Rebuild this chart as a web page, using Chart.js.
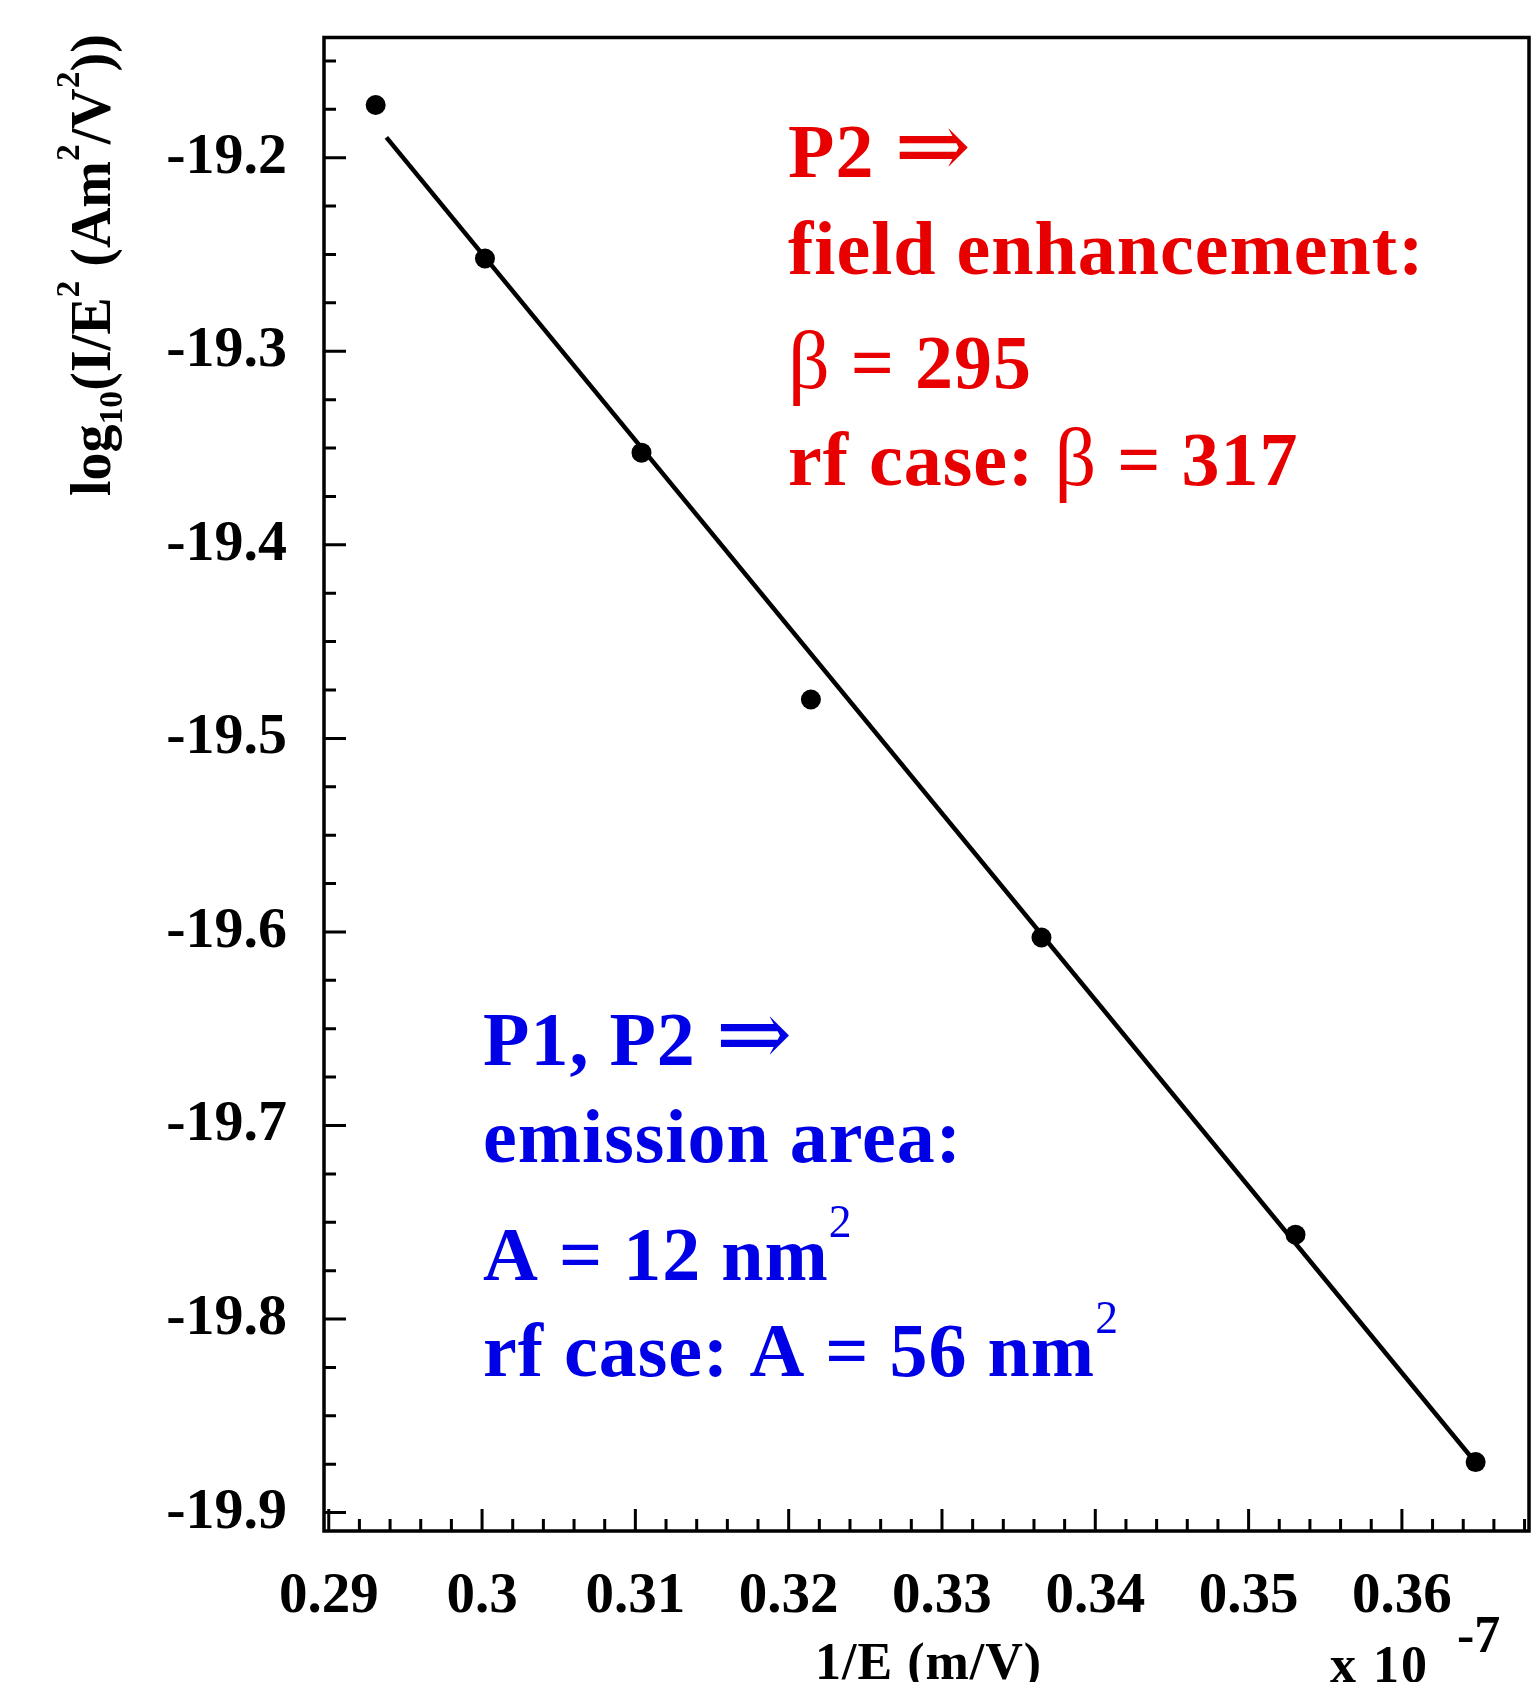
<!DOCTYPE html>
<html>
<head>
<meta charset="utf-8">
<script src="https://cdn.jsdelivr.net/npm/chart.js@4/dist/chart.umd.min.js"></script>
<style>
  html, body { margin: 0; padding: 0; background: #fff; overflow: hidden; }
  canvas { display: block; }
</style>
</head>
<body>
<canvas id="fnPlot" width="1533" height="1682"></canvas>
<script>
// measured points, x in units of 1e-7 m/V
const invE = [0.29306, 0.30019, 0.31040, 0.32145, 0.33649, 0.35306, 0.36481];
const logIE2 = [-19.1728, -19.2521, -19.3524, -19.4799, -19.6029, -19.7564, -19.8739];

// straight-line fit (end points)
const fitX = [0.29376, 0.36490];
const fitY = [-19.1895, -19.8750];

// axes
const xRange = [0.28969, 0.36829];
const yRange = [-19.9095, -19.1379];
const xTickVals = [0.29, 0.30, 0.31, 0.32, 0.33, 0.34, 0.35, 0.36];
const xTickLabels = ["0.29", "0.3", "0.31", "0.32", "0.33", "0.34", "0.35", "0.36"];
const yTickVals = [-19.9, -19.8, -19.7, -19.6, -19.5, -19.4, -19.3, -19.2];
const yTickLabels = ["-19.9", "-19.8", "-19.7", "-19.6", "-19.5", "-19.4", "-19.3", "-19.2"];
const xMinorStep = 0.002;
const yMinorStep = 0.025;

const SERIF = "'Liberation Serif', 'Times New Roman', 'DejaVu Serif', serif";
const RED = "#e80000";
const BLUE = "#0000e6";

// draw a line of text made of pieces: {t, w, s, k} (w = weight, s = 'sup' | 'sub', k = size factor)
function drawRich(ctx, x, y, size, parts, color, spacing) {
  ctx.fillStyle = color;
  ctx.textBaseline = "alphabetic";
  ctx.textAlign = "left";
  ctx.letterSpacing = (spacing || 0) + "px";
  let cx = x;
  parts.forEach(p => {
    let fs = size * (p.k || 1), dy = 0;
    if (p.s === "sup") { fs = size * 0.6; dy = -size * 0.56; }
    if (p.s === "sub") { fs = size * 0.6; dy = size * 0.22; }
    ctx.font = (p.w || "bold") + " " + fs + "px " + SERIF;
    ctx.fillText(p.t, cx, y + dy);
    cx += ctx.measureText(p.t).width;
  });
  ctx.letterSpacing = "0px";
}

const framePlugin = {
  id: "frame",
  afterDraw(chart) {
    const ctx = chart.ctx;
    const a = chart.chartArea;
    const xs = chart.scales.x, ys = chart.scales.y;
    ctx.save();
    ctx.strokeStyle = "#000";

    // inward ticks on the left and bottom axes
    ctx.lineWidth = 3;
    ctx.beginPath();
    for (let v = xTickVals[0] - 5 * xMinorStep; v <= xRange[1]; v += xMinorStep) {
      if (v < xRange[0]) continue;
      const px = xs.getPixelForValue(v);
      const major = xTickVals.some(t => Math.abs(t - v) < 1e-6);
      ctx.moveTo(px, a.bottom);
      ctx.lineTo(px, a.bottom - (major ? 22 : 12));
    }
    for (let v = yTickVals[0] - 4 * yMinorStep; v <= yRange[1]; v += yMinorStep) {
      if (v < yRange[0]) continue;
      const py = ys.getPixelForValue(v);
      const major = yTickVals.some(t => Math.abs(t - v) < 1e-6);
      ctx.moveTo(a.left, py);
      ctx.lineTo(a.left + (major ? 22 : 12), py);
    }
    ctx.stroke();

    // frame
    ctx.lineWidth = 3.5;
    ctx.strokeRect(a.left, a.top, a.right - a.left, a.bottom - a.top);

    // y axis title, rotated
    ctx.save();
    ctx.translate(110, 496);
    ctx.rotate(-Math.PI / 2);
    drawRich(ctx, 0, 0, 56, [
      { t: "log" }, { t: "10", s: "sub" }, { t: "(I/E" }, { t: "2", s: "sup" },
      { t: " (Am" }, { t: "2", s: "sup" }, { t: "/V" }, { t: "2", s: "sup" }, { t: "))" }
    ], "#000", 0);
    ctx.restore();

    // x axis title and exponent
    drawRich(ctx, 815, 1679, 52, [{ t: "1/E (m/V)" }], "#000", 1);
    drawRich(ctx, 1330, 1682, 52, [{ t: "x 10" }], "#000", 2);
    drawRich(ctx, 1457, 1652, 52, [{ t: "-7" }], "#000");

    // annotations
    const arrow = { t: "\u21D2", w: "normal", k: 1.2 };
    const beta = { t: "\u03B2", w: "normal", k: 1.08 };
    const red = [
      [177, [{ t: "P2 " }, arrow]],
      [274, [{ t: "field enhancement:" }]],
      [388, [beta, { t: " = 295" }]],
      [485, [{ t: "rf case: " }, beta, { t: " = 317" }]]
    ];
    red.forEach(r => drawRich(ctx, 788, r[0], 76, r[1], RED, 1));

    const blue = [
      [1065, [{ t: "P1, P2 " }, arrow]],
      [1162, [{ t: "emission area:" }]],
      [1280, [{ t: "A = 12 nm" }, { t: "2", s: "sup", w: "normal" }]],
      [1376, [{ t: "rf case: A = 56 nm" }, { t: "2", s: "sup", w: "normal" }]]
    ];
    blue.forEach(r => drawRich(ctx, 483, r[0], 76, r[1], BLUE, 1));

    ctx.restore();
  }
};

const pts = invE.map((x, i) => ({ x: x, y: logIE2[i] }));
const fit = fitX.map((x, i) => ({ x: x, y: fitY[i] }));

new Chart(document.getElementById("fnPlot"), {
  type: "scatter",
  data: {
    datasets: [
      {
        label: "fit",
        data: fit,
        showLine: true,
        borderColor: "#000",
        borderWidth: 4.5,
        pointRadius: 0
      },
      {
        label: "data",
        data: pts,
        pointRadius: 10,
        pointBackgroundColor: "#000",
        pointBorderColor: "#000",
        pointBorderWidth: 0
      }
    ]
  },
  options: {
    responsive: false,
    animation: false,
    events: [],
    layout: { autoPadding: false, padding: { top: 37.5, right: 4, left: 0, bottom: 0 } },
    plugins: { legend: { display: false }, tooltip: { enabled: false } },
    scales: {
      x: {
        type: "linear",
        min: xRange[0],
        max: xRange[1],
        grid: { display: false },
        border: { display: false },
        afterBuildTicks: s => { s.ticks = xTickVals.map(v => ({ value: v })); },
        afterFit: s => { s.height = 151; s.paddingLeft = 0; s.paddingRight = 0; },
        ticks: {
          autoSkip: false,
          maxRotation: 0,
          padding: 24,
          color: "#000",
          font: { family: SERIF, size: 57, weight: "bold" },
          callback: (v, i) => xTickLabels[i]
        }
      },
      y: {
        type: "linear",
        min: yRange[0],
        max: yRange[1],
        grid: { display: false },
        border: { display: false },
        afterBuildTicks: s => { s.ticks = yTickVals.map(v => ({ value: v })); },
        afterFit: s => { s.width = 324; s.paddingTop = 0; s.paddingBottom = 0; },
        ticks: {
          autoSkip: false,
          padding: 29,
          color: "#000",
          font: { family: SERIF, size: 58, weight: "bold" },
          callback: (v, i) => yTickLabels[i]
        }
      }
    }
  },
  plugins: [framePlugin]
});
</script>
</body>
</html>
